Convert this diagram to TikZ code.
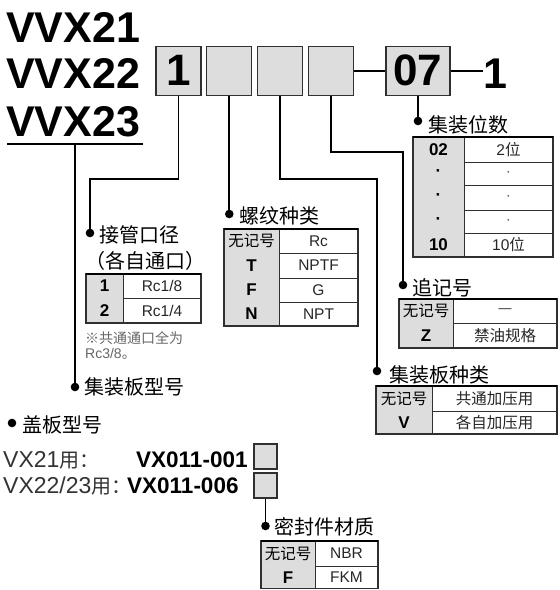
\documentclass[tikz,border=0pt]{standalone}
\usepackage{fontspec}
\setmainfont{Liberation Sans}
\newfontfamily\cjk{Noto Sans CJK SC}
\definecolor{keyfill}{HTML}{DDDDDD}
\definecolor{bordc}{HTML}{303030}
\definecolor{notec}{HTML}{666666}
\newcommand\fs[1]{\fontsize{#1}{#1}\selectfont}
\tikzset{
  conn/.style={line width=1.8pt, black},
  ptbox/.style={draw=bordc, fill=keyfill, line width=1.3pt, minimum width=45pt,
    minimum height=49pt, inner sep=0pt, font=\bfseries\fs{44}},
  smallbox/.style={draw=bordc, fill=keyfill, line width=1.2pt, minimum width=23pt,
    minimum height=25pt, inner sep=0pt},
  title/.style={anchor=base west, inner sep=0pt, font=\bfseries\fs{43}},
  lbl/.style={anchor=west, inner sep=0pt, font=\cjk\fs{20}},
  keytxt/.style={inner sep=0pt, font=\bfseries\fs{17}},
  valtxt/.style={inner sep=0pt, font=\fs{15.5}, text=black!85},
  outline/.style={draw=bordc, line width=1.2pt},
  inline/.style={draw=bordc, line width=1pt},
  topline/.style={draw=black, line width=2.4pt},
  note/.style={anchor=west, inner sep=0pt, text=notec},
  plain/.style={anchor=base west, inner sep=0pt, font=\fs{23}, text=black!80},
  boldtxt/.style={anchor=base west, inner sep=0pt, font=\bfseries\fs{22.5}},
}
% #1 name, #2 x0, #3 xd, #4 x1, #5 ya, #6 yb, #7 key, #8 value
\newcommand\trow[8]{%
  \fill[keyfill] (#2,#5) rectangle (#3,#6);
  \draw[inline] (#2,#6) -- (#4,#6);
  \node[keytxt] (#1k) at ({(#2+#3)/2},{(#5+#6)/2}) {#7};
  \node[valtxt] (#1v) at ({(#3+#4)/2},{(#5+#6)/2}) {#8};
}
% x0 xd x1 ytop ybot
\newcommand\tframe[5]{%
  \draw[outline] (#1,#4) rectangle (#3,#5);
  \draw[inline] (#2,#4) -- (#2,#5);
  \draw[topline] (#1,#4) -- (#3,#4);
}
\newcommand\nokey{{\cjk\mdseries\fs{15.5}无记号}}
\begin{document}
\begin{tikzpicture}[x=1pt,y=-1pt]
\useasboundingbox (0,0) rectangle (560,590);

% ---- model title
\node[title] (t1) at (6,42) {VVX21};
\node[title] (t2) at (6,88) {VVX22};
\node[title] (t3) at (6,136) {VVX23};
\coordinate (ulA) at (7,144);
\coordinate (ulB) at (143,144);
\coordinate (ulM) at (75,144);
\draw[conn] (ulA) -- (ulB);

% ---- code boxes
\node[ptbox] (b1) at (178.5,70.7) {1};
\node[ptbox] (b2) at (229.3,70.7) {};
\node[ptbox] (b3) at (280,70.7) {};
\node[ptbox] (b4) at (330.7,70.7) {};
\node[ptbox, minimum width=64pt] (b5) at (418,70.7) {07};
\node[title] (one) at (483,88) {1};
\draw[conn] (b4.east) -- (b5.west);
\draw[conn] (b5.east) -- (b5.east -| one.west);

% ---- dots
\coordinate (d1) at (90,233);
\coordinate (d2) at (229.3,214);
\coordinate (d3) at (377,371);
\coordinate (d4) at (403,285);
\coordinate (d5) at (418,121);
\coordinate (dM) at (75,387);
\coordinate (dC) at (12,423);
\coordinate (dS) at (265.5,526);
\foreach \d in {d1,d2,d3,d4,d5,dM,dC,dS} \fill (\d) circle (4.3pt);

% ---- connectors
\coordinate (j1) at (0,179);
\coordinate (j4) at (0,152);
\draw[conn] (b1.south) -- (b1.south |- j1) -| (d1);
\draw[conn] (b2.south) -- (d2);
\draw[conn] (b3.south) -- (b3.south |- j1) -| (d3);
\draw[conn] (b4.south) -- (b4.south |- j4) -| (d4);
\draw[conn] (b5.south) -- (d5);
\draw[conn] (ulM) -- (dM);

% ---- labels
\node[lbl] (L5) at (428,125) {集装位数};
\node[lbl] (L1) at (99,235) {接管口径};
\node[lbl] (L1b) at (85,261) {（各自通口）};
\node[lbl] (L2) at (239,216) {螺纹种类};
\node[lbl] (L4) at (412,288) {追记号};
\node[lbl] (L3) at (389,375) {集装板种类};
\node[lbl] (LM) at (84,387) {集装板型号};
\node[lbl] (LC) at (22,425) {盖板型号};
\node[lbl] (LS) at (274,527) {密封件材质};

% ---- table: 集装位数
\trow{p1}{413}{464}{553}{137}{162}{02}{2{\cjk 位}}
\trow{p2}{413}{464}{553}{162}{185}{·}{\color{notec}·}
\trow{p3}{413}{464}{553}{185}{210}{·}{\color{notec}·}
\trow{p4}{413}{464}{553}{210}{233}{·}{\color{notec}·}
\trow{p5}{413}{464}{553}{233}{257}{10}{10{\cjk 位}}
\tframe{413}{464}{553}{137}{257}

% ---- table: 接管口径
\trow{q1}{86}{123}{201}{274}{298}{1}{Rc1/8}
\trow{q2}{86}{123}{201}{298}{323}{2}{Rc1/4}
\tframe{86}{123}{201}{274}{323}
\node[note, font=\cjk\fs{14}] (n1) at (85,338) {※共通通口全为};
\node[note, font=\fs{14}] (n2) at (85,354) {Rc3/8{\cjk 。}};

% ---- table: 螺纹种类
\trow{r1}{224}{279}{358}{229}{253}{\nokey}{Rc}
\trow{r2}{224}{279}{358}{253}{278}{T}{NPTF}
\trow{r3}{224}{279}{358}{278}{302}{F}{G}
\trow{r4}{224}{279}{358}{302}{326}{N}{NPT}
\tframe{224}{279}{358}{229}{326}

% ---- table: 追记号
\trow{s1}{399}{453}{557}{299}{323}{\nokey}{{\fs{13}—}}
\trow{s2}{399}{453}{557}{323}{348}{Z}{{\cjk 禁油规格}}
\tframe{399}{453}{557}{299}{348}

% ---- table: 集装板种类
\trow{u1}{376}{432}{557}{386}{411}{\nokey}{{\cjk 共通加压用}}
\trow{u2}{376}{432}{557}{411}{434}{V}{{\cjk 各自加压用}}
\tframe{376}{432}{557}{386}{434}

% ---- cover plate
\node[plain] (c1t) at (3,467) {VX21{\cjk\fs{20}用：}};
\node[boldtxt] (c1c) at (136,467) {VX011-001};
\node[smallbox] (c1) at (265.5,456.5) {};
\node[plain] (c2t) at (3,493) {VX22/23{\cjk\fs{20}用：}};
\node[boldtxt] (c2c) at (127,493) {VX011-006};
\node[smallbox] (c2) at (265.5,485.5) {};
\draw[conn] (c2.south) -- (dS);

% ---- table: 密封件材质
\trow{v1}{261}{315}{378}{541}{566}{\nokey}{NBR}
\trow{v2}{261}{315}{378}{566}{588.5}{F}{FKM}
\tframe{261}{315}{378}{541}{588.5}
\end{tikzpicture}
\end{document}
